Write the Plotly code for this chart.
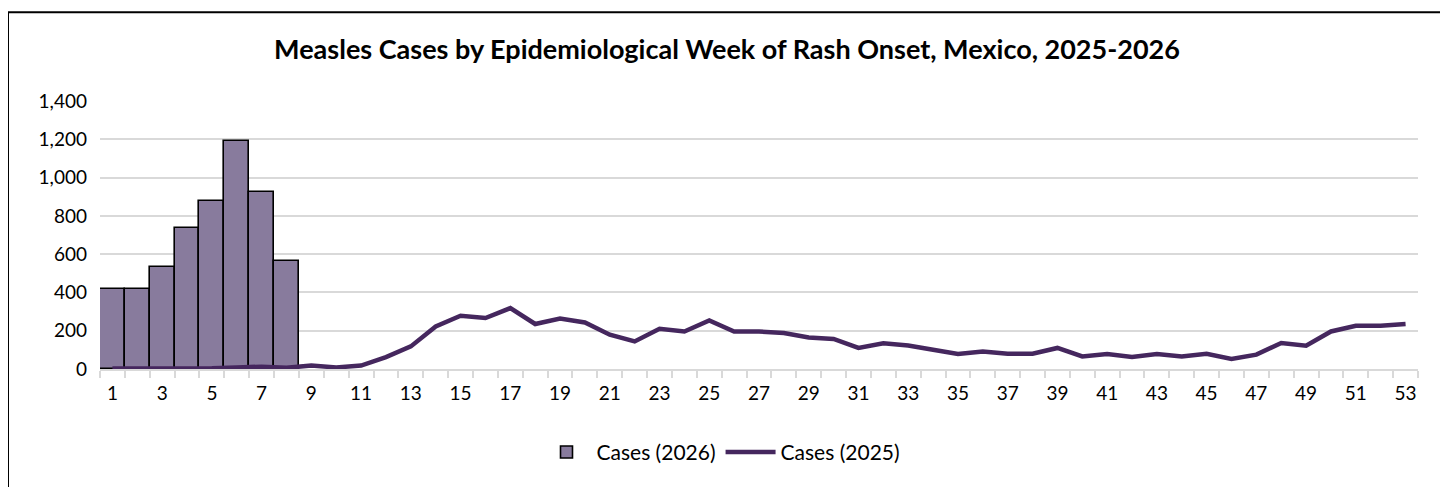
import plotly.graph_objects as go

weeks = list(range(1, 54))
weeks_2026 = list(range(1, 9))
cases_2026 = [420, 420, 532, 734, 880, 1190, 923, 565]
cases_2025 = [2, 2, 3, 3, 4, 8, 12, 6, 18, 8, 18, 62, 118, 222, 278, 266, 318, 235, 264, 243,
              179, 144, 210, 196, 254, 196, 196, 188, 165, 157, 110, 134, 123, 101, 78, 92, 80, 80,
              110, 66, 78, 63, 78, 66, 80, 52, 75, 136, 122, 196, 226, 226, 235]
tick_weeks = list(range(1, 54, 2))
y_ticks = [0, 200, 400, 600, 800, 1000, 1200, 1400]

FONT = "Lato"
# page has an 8px body margin: figure occupies page x 8..1448, y 8..487
W, H = 1440, 479
L, R, T, B = 92, 30, 93, 117.5
PW, PH = W - L - R, H - T - B

fig = go.Figure()
fig.add_trace(go.Bar(
    x=weeks_2026, y=cases_2026, name="Cases (2026)", width=1,
    marker=dict(color="#887B9D", line=dict(color="#000000", width=1.6)),
))
fig.add_trace(go.Scatter(
    x=weeks, y=cases_2025, name="Cases (2025)", mode="lines",
    line=dict(color="#45275E", width=4.5),
))

fig.update_layout(
    width=W, height=H,
    margin=dict(l=L, r=R, t=T, b=B),
    paper_bgcolor="white", plot_bgcolor="white",
    font=dict(family=FONT, size=19, color="#000000"),
    title=dict(text="<b>Measles Cases by Epidemiological Week of Rash Onset, Mexico, 2025-2026</b>",
               x=(727 - 8) / W, xanchor="center", y=1 - 42 / H, yanchor="middle",
               font=dict(family=FONT, size=27, color="#000000")),
    showlegend=True,
    legend=dict(orientation="h", x=(721 - 8 - L) / PW, xanchor="center",
                y=(T + PH - 445) / PH, yanchor="middle",
                font=dict(family=FONT, size=21), itemwidth=50, traceorder="normal"),
    bargap=0,
    shapes=[dict(type="rect", xref="paper", yref="paper",
                 x0=(0 - L) / PW, x1=(1438 - L) / PW,
                 y0=(T + PH - 520) / PH, y1=(T + PH - 4) / PH,
                 line=dict(color="#000000", width=2), fillcolor="rgba(0,0,0,0)", layer="below")],
)

fig.update_xaxes(
    range=[0.5, 53.5], tickvals=tick_weeks, ticktext=[str(w) for w in tick_weeks],
    ticks="", showgrid=False, showline=True, linecolor="#d9d9d9", linewidth=1.5,
    ticklabelstandoff=6, zeroline=False,
    minor=dict(tick0=0.5, dtick=1, ticks="outside", ticklen=7, tickcolor="#d9d9d9",
               tickwidth=1.5, showgrid=False),
    tickfont=dict(family=FONT, size=19),
)
fig.update_yaxes(
    range=[0, 1400], tickvals=y_ticks, tickformat=",d",
    showgrid=True, gridcolor="#d9d9d9", gridwidth=1.5, zeroline=False,
    showline=False, ticks="", ticklabelstandoff=12,
    tickfont=dict(family=FONT, size=19),
)

fig.write_html("out.html")
